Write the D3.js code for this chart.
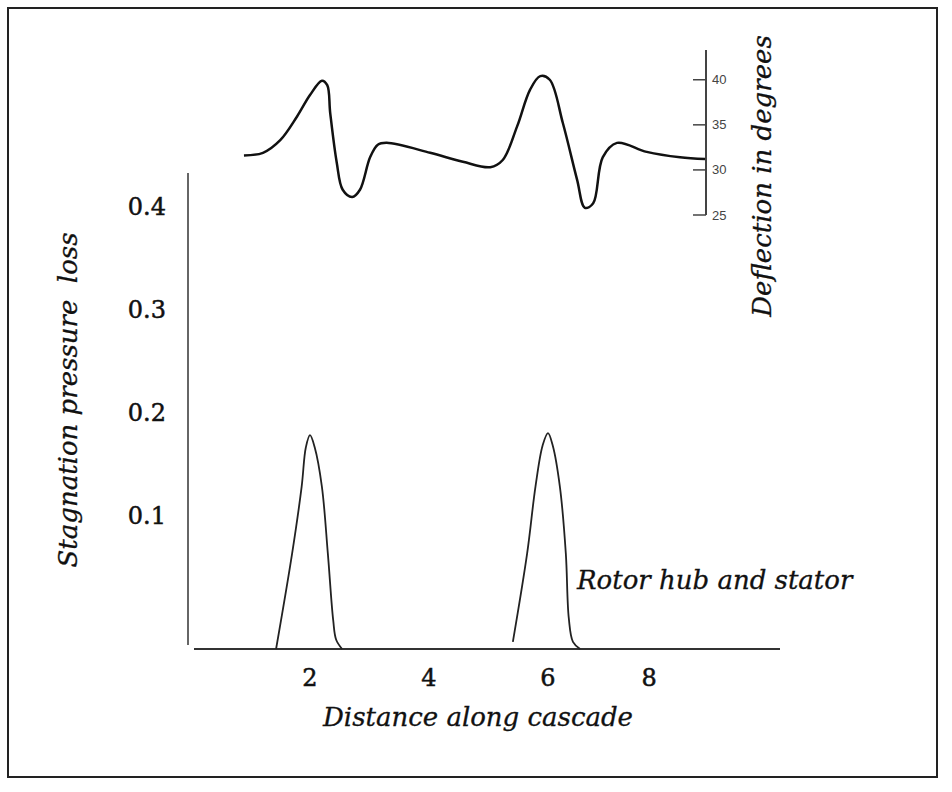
<!DOCTYPE html>
<head>
    <title>Stagnation pressure loss and deflection</title>
    <script src="https://cdn.jsdelivr.net/npm/d3@7"></script>
    <style>
        body { margin: 0; background: #fff; }
        .lbl { font-family: "DejaVu Serif", serif; font-style: italic; fill: #111; stroke: #111; stroke-width: 0.3px; }
        .tick-lbl { font-family: "DejaVu Serif", serif; fill: #111; stroke: #111; stroke-width: 0.5px; }
        .deg-lbl { font-family: "Liberation Sans", Arial, sans-serif; fill: #444; }
    </style>
</head>
<body>
<div id="container"></div>
<script>

    // Deflection curve (degrees) along the cascade
    const deflX = [0.89, 1.21, 1.50, 1.78, 2.00, 2.20, 2.29, 2.34, 2.45, 2.55, 2.71, 2.84, 3.01, 3.14, 3.29,
                   4.02, 4.57, 5.03, 5.24, 5.48, 5.70, 5.87, 6.03, 6.25, 6.49, 6.62, 6.76, 6.92, 7.16, 7.66, 8.22, 8.64];
    const deflY = [31.6, 31.9, 33.3, 35.9, 38.3, 39.9, 39.4, 36.3, 30.8, 27.8, 27.0, 27.8, 31.4, 32.8, 33.0,
                   31.9, 30.9, 30.3, 31.1, 34.8, 38.9, 40.4, 40.0, 35.2, 28.9, 25.8, 26.3, 31.4, 33.0, 32.0, 31.4, 31.2];

    // Stagnation pressure loss wakes (rotor hub and stator)
    const wake1X = [1.43, 1.70, 1.86, 1.93, 2.00, 2.08, 2.20, 2.30, 2.39, 2.44, 2.54];
    const wake1Y = [-0.03, 0.063, 0.128, 0.166, 0.178, 0.166, 0.128, 0.063, -0.002, -0.021, -0.03];
    const wake2X = [5.41, 5.65, 5.79, 5.91, 6.00, 6.08, 6.20, 6.30, 6.35, 6.42, 6.54];
    const wake2Y = [-0.023, 0.063, 0.128, 0.168, 0.180, 0.168, 0.128, 0.063, 0.0, -0.023, -0.03];

    // Tick labels
    const lossTicks = [0.1, 0.2, 0.3, 0.4];
    const distTicks = [2, 4, 6, 8];
    const distTickAt = [2, 4, 6, 7.7];   // where the picture puts the labels
    const degTicks = [25, 30, 35, 40];

    const width = 952;
    const height = 792;

    const svg = d3.select("#container")
        .append("svg")
        .attr("width", width)
        .attr("height", height);

    // Outer frame
    svg.append("rect")
        .attr("x", 8)
        .attr("y", 8)
        .attr("width", 929)
        .attr("height", 769)
        .attr("fill", "none")
        .attr("stroke", "#222")
        .attr("stroke-width", 2);

    // Scales
    const x = d3.scaleLinear().domain([0, 9.9]).range([191, 780]);
    const yLoss = d3.scaleLinear().domain([-0.03, 0.4]).range([649, 207]);
    const yDeg = d3.scaleLinear().domain([25, 43.3]).range([215, 50]);

    // Left axis (no ticks)
    svg.append("line")
        .attr("x1", 188).attr("x2", 188)
        .attr("y1", 173).attr("y2", 645)
        .attr("stroke", "#666")
        .attr("stroke-width", 2);

    // Bottom axis
    svg.append("line")
        .attr("x1", 194).attr("x2", x.range()[1])
        .attr("y1", yLoss(-0.03)).attr("y2", yLoss(-0.03))
        .attr("stroke", "#333")
        .attr("stroke-width", 2);

    svg.selectAll(".loss-tick")
        .data(lossTicks)
        .enter()
        .append("text")
        .attr("class", "tick-lbl")
        .attr("x", 166)
        .attr("y", d => yLoss(d))
        .attr("dy", "0.35em")
        .attr("text-anchor", "end")
        .attr("font-size", 24)
        .text(d => d.toFixed(1));

    svg.selectAll(".dist-tick")
        .data(distTicks)
        .enter()
        .append("text")
        .attr("class", "tick-lbl")
        .attr("x", (d, i) => x(distTickAt[i]))
        .attr("y", 678)
        .attr("dy", "0.35em")
        .attr("text-anchor", "middle")
        .attr("font-size", 24)
        .text(d => d);

    // Right deflection axis
    const degAxis = svg.append("g")
        .attr("transform", "translate(706,0)");

    degAxis.append("line")
        .attr("x1", 0).attr("x2", 0)
        .attr("y1", yDeg.range()[1]).attr("y2", yDeg(25))
        .attr("stroke", "#444")
        .attr("stroke-width", 2);

    degAxis.selectAll(".deg-tick")
        .data(degTicks)
        .enter()
        .append("line")
        .attr("x1", -13).attr("x2", 0)
        .attr("y1", d => yDeg(d)).attr("y2", d => yDeg(d))
        .attr("stroke", "#444")
        .attr("stroke-width", 1.5);

    degAxis.selectAll(".deg-lbl")
        .data(degTicks)
        .enter()
        .append("text")
        .attr("class", "deg-lbl")
        .attr("x", 6)
        .attr("y", d => yDeg(d))
        .attr("dy", "0.35em")
        .attr("font-size", 13)
        .text(d => d);

    // Curves
    const deflLine = d3.line()
        .x(i => x(deflX[i]))
        .y(i => yDeg(deflY[i]))
        .curve(d3.curveCatmullRom.alpha(0.5));

    svg.append("path")
        .attr("d", deflLine(d3.range(deflX.length)))
        .attr("fill", "none")
        .attr("stroke", "#111")
        .attr("stroke-width", 2.5);

    const wakes = [[wake1X, wake1Y], [wake2X, wake2Y]];
    wakes.forEach(w => {
        const line = d3.line()
            .x(i => x(w[0][i]))
            .y(i => yLoss(w[1][i]))
            .curve(d3.curveCatmullRom.alpha(0.5));
        svg.append("path")
            .attr("d", line(d3.range(w[0].length)))
            .attr("fill", "none")
            .attr("stroke", "#222")
            .attr("stroke-width", 1.8);
    });

    // Labels
    svg.append("text")
        .attr("class", "lbl")
        .attr("x", 478)
        .attr("y", 726)
        .attr("text-anchor", "middle")
        .attr("font-size", 26)
        .text("Distance along cascade");

    svg.append("text")
        .attr("class", "lbl")
        .attr("x", 577)
        .attr("y", 589)
        .attr("font-size", 26)
        .text("Rotor hub and stator");

    svg.append("text")
        .attr("class", "lbl")
        .attr("transform", "translate(77,400) rotate(-90)")
        .attr("text-anchor", "middle")
        .attr("font-size", 26)
        .attr("xml:space", "preserve")
        .style("white-space", "pre")
        .text("Stagnation pressure  loss");

    svg.append("text")
        .attr("class", "lbl")
        .attr("transform", "translate(771,176) rotate(-90)")
        .attr("text-anchor", "middle")
        .attr("font-size", 26)
        .text("Deflection in degrees");

</script>
</body>
